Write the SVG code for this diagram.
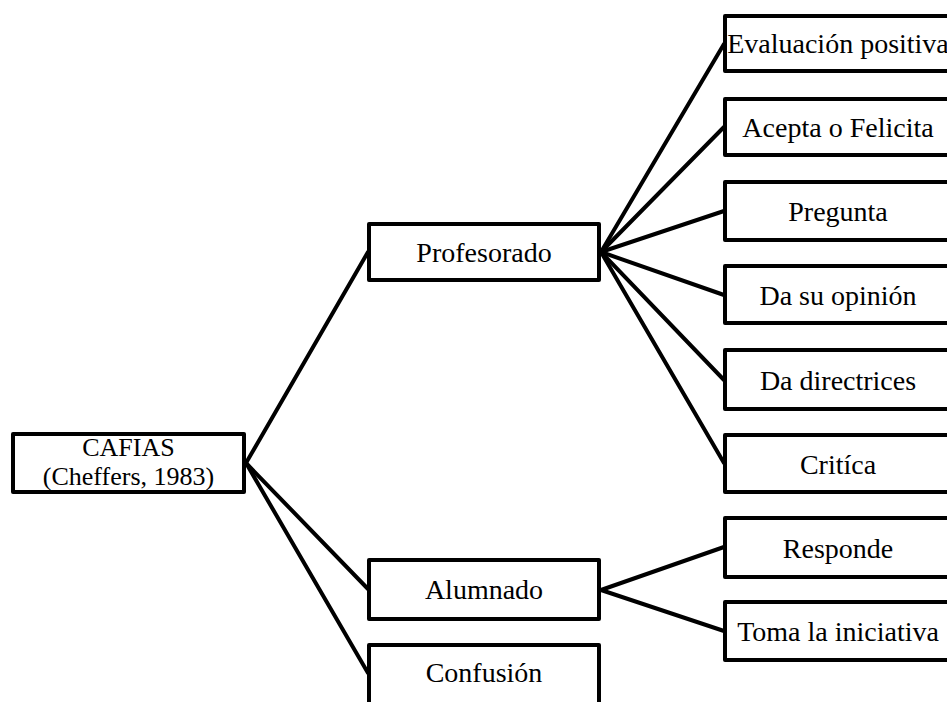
<svg xmlns="http://www.w3.org/2000/svg" width="947" height="702" viewBox="0 0 947 702">
  <style>
    .box { fill: #ffffff; stroke: #000000; stroke-width: 4; stroke-linejoin: round; }
    .lbl { font-family: "Liberation Serif", "Times New Roman", serif; font-size: 28px; fill: #000000; text-anchor: middle; }
    .lbl2 { font-size: 26px; }
    .link { stroke: #000000; stroke-width: 4; fill: none; stroke-linecap: round; }
  </style>
  <rect x="0" y="0" width="947" height="702" fill="#ffffff"/>

  <!-- connectors -->
  <g id="connectors">
    <line class="link" x1="246" y1="463" x2="368" y2="252"/>
    <line class="link" x1="246" y1="463" x2="368" y2="589"/>
    <line class="link" x1="246" y1="463" x2="368" y2="673"/>
    <line class="link" x1="601" y1="252" x2="724" y2="44"/>
    <line class="link" x1="601" y1="252" x2="724" y2="127"/>
    <line class="link" x1="601" y1="252" x2="724" y2="211"/>
    <line class="link" x1="601" y1="252" x2="724" y2="295"/>
    <line class="link" x1="601" y1="252" x2="724" y2="380"/>
    <line class="link" x1="601" y1="252" x2="724" y2="463"/>
    <line class="link" x1="601" y1="590" x2="724" y2="547"/>
    <line class="link" x1="601" y1="590" x2="724" y2="631"/>
  </g>

  <g id="cafias">
    <rect class="box" x="13" y="434" width="231" height="58"/>
    <text class="lbl lbl2" x="128.5" y="456">CAFIAS</text>
    <text class="lbl lbl2" x="128.5" y="485">(Cheffers, 1983)</text>
  </g>

  <g id="profesorado">
    <rect class="box" x="369" y="224" width="230" height="56"/>
    <text class="lbl" x="484" y="262">Profesorado</text>
  </g>

  <g id="alumnado">
    <rect class="box" x="369" y="560" width="230" height="59"/>
    <text class="lbl" x="484" y="599">Alumnado</text>
  </g>

  <g id="confusion">
    <rect class="box" x="369" y="645" width="230" height="70"/>
    <text class="lbl" x="484" y="682">Confusión</text>
  </g>

  <g id="evaluacion">
    <rect class="box" x="725" y="16" width="226" height="55"/>
    <text class="lbl" x="838" y="53">Evaluación positiva</text>
  </g>

  <g id="acepta">
    <rect class="box" x="725" y="99" width="226" height="56"/>
    <text class="lbl" x="838" y="137">Acepta o Felicita</text>
  </g>

  <g id="pregunta">
    <rect class="box" x="725" y="182" width="226" height="58"/>
    <text class="lbl" x="838" y="221">Pregunta</text>
  </g>

  <g id="opinion">
    <rect class="box" x="725" y="266" width="226" height="57"/>
    <text class="lbl" x="838" y="305">Da su opinión</text>
  </g>

  <g id="directrices">
    <rect class="box" x="725" y="350" width="226" height="59"/>
    <text class="lbl" x="838" y="390">Da directrices</text>
  </g>

  <g id="critica">
    <rect class="box" x="725" y="435" width="226" height="57"/>
    <text class="lbl" x="838" y="474">Critíca</text>
  </g>

  <g id="responde">
    <rect class="box" x="725" y="518" width="226" height="59"/>
    <text class="lbl" x="838" y="558">Responde</text>
  </g>

  <g id="iniciativa">
    <rect class="box" x="725" y="602" width="226" height="58"/>
    <text class="lbl" x="838" y="641">Toma la iniciativa</text>
  </g>
</svg>
